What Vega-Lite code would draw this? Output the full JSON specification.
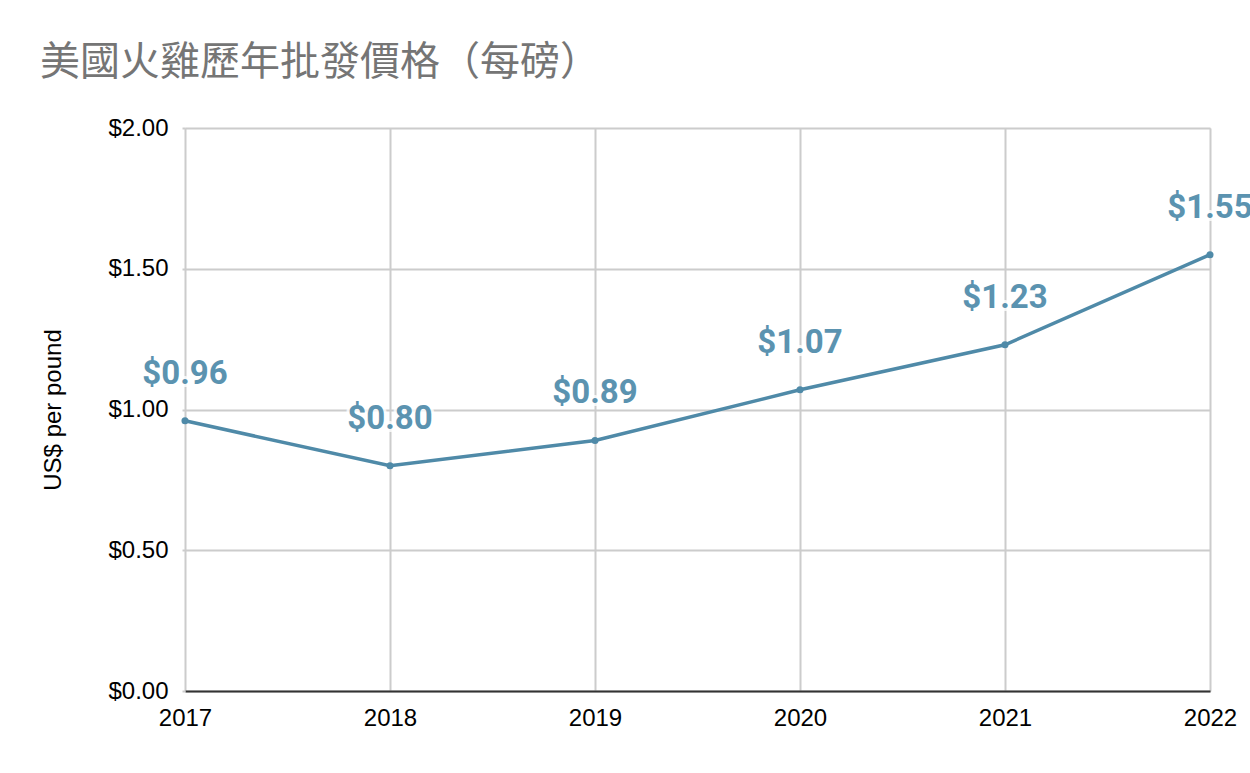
{
  "$schema": "https://vega.github.io/schema/vega-lite/v6.json",
  "autosize": "none",
  "width": 1025,
  "height": 563,
  "padding": {"left": 185, "top": 128, "right": 40, "bottom": 82},
  "background": "white",
  "title": {
    "text": "美國火雞歷年批發價格（每磅）",
    "anchor": "start",
    "frame": "group",
    "dx": -145,
    "offset": 33,
    "font": "Noto Sans CJK TC",
    "fontSize": 40,
    "fontWeight": "normal",
    "color": "#757575"
  },
  "data": {
    "values": [
      {"year": 2017, "price": 0.96, "label": "$0.96"},
      {"year": 2018, "price": 0.80, "label": "$0.80"},
      {"year": 2019, "price": 0.89, "label": "$0.89"},
      {"year": 2020, "price": 1.07, "label": "$1.07"},
      {"year": 2021, "price": 1.23, "label": "$1.23"},
      {"year": 2022, "price": 1.55, "label": "$1.55"}
    ]
  },
  "encoding": {
    "x": {
      "field": "year",
      "type": "quantitative",
      "scale": {"domain": [2017, 2022], "nice": false, "zero": false},
      "axis": {
        "values": [2017, 2018, 2019, 2020, 2021, 2022],
        "format": "d",
        "title": null,
        "grid": true,
        "gridColor": "#cccccc",
        "gridWidth": 2,
        "domainColor": "#333333",
        "domainWidth": 2,
        "ticks": false,
        "labelFlush": false,
        "labelOverlap": false,
        "labelBound": false,
        "labelFont": "Liberation Sans",
        "labelFontSize": 24,
        "labelColor": "#000000",
        "labelPadding": 15
      }
    },
    "y": {
      "field": "price",
      "type": "quantitative",
      "scale": {"domain": [0, 2], "nice": false},
      "axis": {
        "values": [0, 0.5, 1, 1.5, 2],
        "format": "$.2f",
        "title": "US$ per pound",
        "titleFont": "Liberation Sans",
        "titleFontSize": 24,
        "titleFontWeight": "normal",
        "titleColor": "#000000",
        "titlePadding": 42,
        "grid": true,
        "gridColor": "#cccccc",
        "gridWidth": 2,
        "domain": false,
        "ticks": true,
        "tickColor": "#cccccc",
        "tickSize": 3,
        "tickWidth": 2,
        "labelFont": "Liberation Sans",
        "labelFontSize": 24,
        "labelColor": "#000000",
        "labelPadding": 14
      }
    }
  },
  "layer": [
    {
      "mark": {"type": "line", "color": "#4f8aa8", "strokeWidth": 3.5},
      "encoding": {}
    },
    {
      "mark": {"type": "point", "filled": true, "color": "#4f8aa8", "size": 50, "opacity": 1},
      "encoding": {}
    },
    {
      "mark": {"type": "text", "font": "Roboto", "fontSize": 33, "fontWeight": "bold", "dy": -47, "baseline": "middle", "stroke": "white", "strokeWidth": 6, "fill": "white", "opacity": 0.8},
      "encoding": {"text": {"field": "label"}}
    },
    {
      "mark": {"type": "text", "font": "Roboto", "fontSize": 33, "fontWeight": "bold", "dy": -47, "baseline": "middle", "color": "#5b93b0"},
      "encoding": {"text": {"field": "label"}}
    }
  ]
}
